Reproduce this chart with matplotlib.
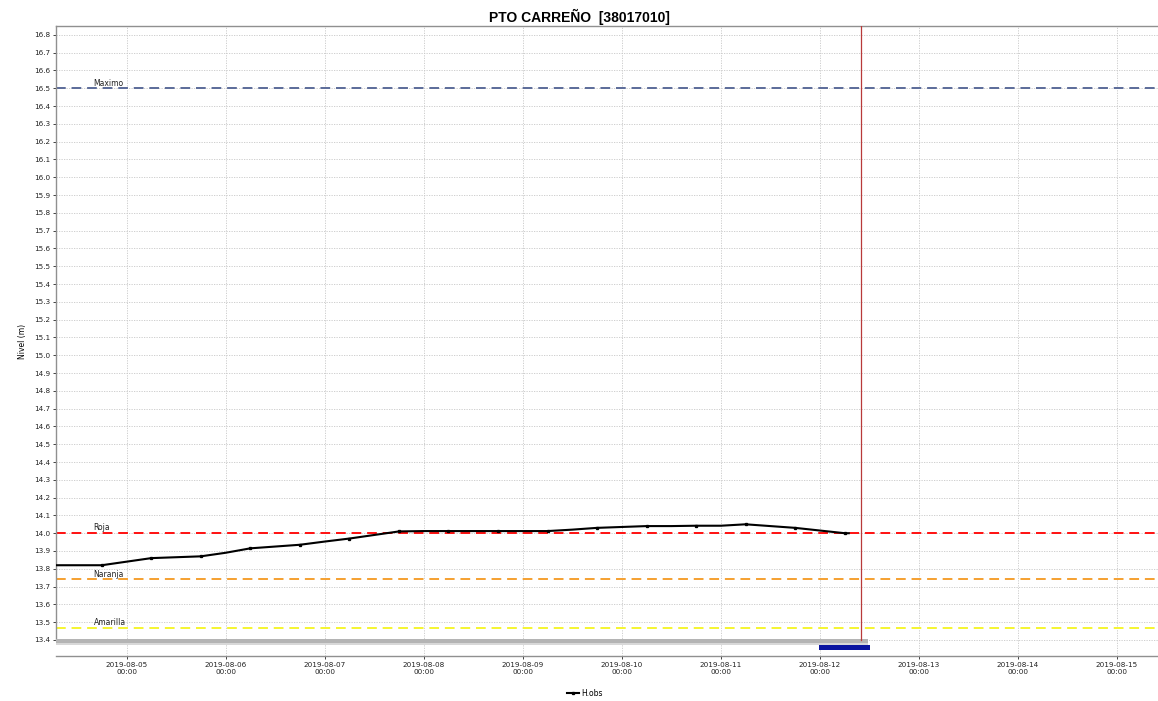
import pandas as pd
import matplotlib.pyplot as plt
import matplotlib.dates as mdates

# Serie observada (cada 6 horas)
fechas = pd.to_datetime([
    '2019-08-04 07:00', '2019-08-04 12:00', '2019-08-04 18:00',
    '2019-08-05 00:00', '2019-08-05 06:00', '2019-08-05 12:00', '2019-08-05 18:00',
    '2019-08-06 00:00', '2019-08-06 06:00', '2019-08-06 12:00', '2019-08-06 18:00',
    '2019-08-07 00:00', '2019-08-07 06:00', '2019-08-07 12:00', '2019-08-07 18:00',
    '2019-08-08 00:00', '2019-08-08 06:00', '2019-08-08 12:00', '2019-08-08 18:00',
    '2019-08-09 00:00', '2019-08-09 06:00', '2019-08-09 12:00', '2019-08-09 18:00',
    '2019-08-10 00:00', '2019-08-10 06:00', '2019-08-10 12:00', '2019-08-10 18:00',
    '2019-08-11 00:00', '2019-08-11 06:00', '2019-08-11 12:00', '2019-08-11 18:00',
    '2019-08-12 00:00', '2019-08-12 06:00', '2019-08-12 07:00',
])
nivel = [
    13.82, 13.82, 13.82,
    13.84, 13.86, 13.865, 13.87,
    13.89, 13.915, 13.925, 13.935,
    13.953, 13.97, 13.99, 14.01,
    14.012, 14.012, 14.012, 14.012,
    14.012, 14.012, 14.02, 14.03,
    14.035, 14.04, 14.04, 14.042,
    14.042, 14.05, 14.04, 14.03,
    14.015, 14.0, 14.0,
]

# Umbrales
umbral_nombres = ['Maximo', 'Roja', 'Naranja', 'Amarilla']
umbral_valores = [16.5, 14.0, 13.74, 13.47]
umbral_colores = ['#5b6b99', '#ff1010', '#f5a030', '#f5f530']

x_ini = pd.Timestamp('2019-08-04 06:55')
x_fin = pd.Timestamp('2019-08-15 09:55')
ahora = pd.Timestamp('2019-08-12 09:55')
barra_gris_fin = pd.Timestamp('2019-08-12 11:40')
barra_azul = (pd.Timestamp('2019-08-11 23:50'), pd.Timestamp('2019-08-12 12:10'))

fig = plt.figure(figsize=(11.58, 7.01), dpi=100)
ax = fig.add_axes([0.0484, 0.0642, 0.9516, 0.8987])

for nombre, valor, color in zip(umbral_nombres, umbral_valores, umbral_colores):
    ax.axhline(valor, color=color, lw=1.4, ls=(0, (5, 3)), zorder=2)
    ax.text(pd.Timestamp('2019-08-04 16:00'), valor + 0.004, nombre,
            fontsize=5.5, color='#222222', va='bottom', ha='left', zorder=3)

ax.plot(fechas, nivel, color='black', lw=1.5, marker='s', ms=1.4,
        markevery=(2, 2), label='H.obs', zorder=4)

ax.axvline(ahora, color='#b83a3a', lw=0.9, ymin=(13.4 - 13.31) / (16.85 - 13.31), zorder=5)

# bandas inferiores
ax.fill_between([x_ini, barra_gris_fin], 13.385, 13.404, color='#b4b4b4', lw=0, zorder=3)
ax.fill_between([x_ini, barra_gris_fin], 13.372, 13.385, color='#d8d8d8', lw=0, zorder=3)
ax.fill_between(list(barra_azul), 13.341, 13.369, color='#0a14a0', lw=0, zorder=3)

ax.set_xlim(x_ini, x_fin)
ax.set_ylim(13.31, 16.85)
ax.set_yticks([13.4 + 0.1 * i for i in range(35)])
ax.set_yticklabels([f'{13.4 + 0.1 * i:.1f}' for i in range(35)])
ax.xaxis.set_major_locator(mdates.DayLocator())
ax.xaxis.set_major_formatter(mdates.DateFormatter('%Y-%m-%d\n%H:%M'))

ax.grid(True, color='#c8c8c8', ls=(0, (1.5, 1.5)), lw=0.6)
ax.tick_params(labelsize=5.2, length=2.5, width=0.6, colors='#222222', pad=2)

for lado in ['top', 'bottom', 'left']:
    ax.spines[lado].set_color('#909090')
    ax.spines[lado].set_linewidth(1)
ax.spines['right'].set_visible(False)
ax.spines['left'].set_bounds(13.4, 16.85)

ax.set_ylabel('Nivel (m)', fontsize=5.5, labelpad=5)
fig.suptitle('PTO CARREÑO  [38017010]', fontsize=10, fontweight='bold',
             family='Liberation Sans', y=0.988)

fig.legend(loc='lower center', bbox_to_anchor=(0.505, -0.005), frameon=False,
           fontsize=5.5, handlelength=1.5, handletextpad=0.3)

plt.savefig('out.png', dpi=100)
